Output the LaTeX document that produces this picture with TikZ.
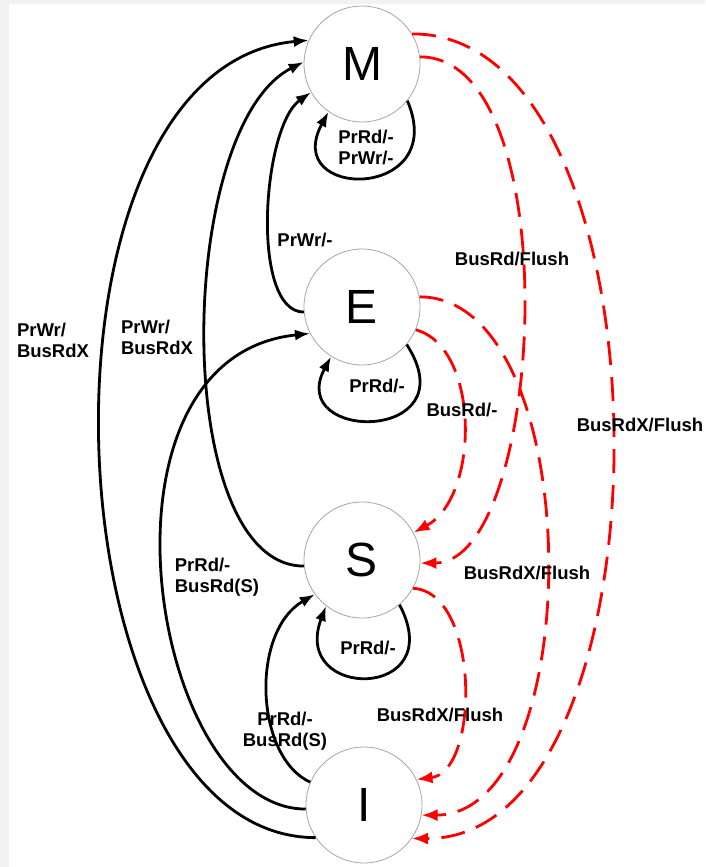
\documentclass[tikz,border=0pt]{standalone}
\usepackage{fontspec}
\setmainfont{Liberation Sans}
\usetikzlibrary{arrows.meta}
\begin{document}
\begin{tikzpicture}[x=1pt,y=1pt]
		\tikzset{state/.style = {shape=circle,draw=gray!70,line width=.8pt,fill=white,minimum size=116pt,inner sep=0pt,font=\fontsize{48}{48}\selectfont}}
		\tikzset{lbl/.style = {font=\fontsize{18.5}{21}\selectfont\bfseries,inner sep=1pt}}
		\tikzset{edge/.style = {->,> = {Latex[length=15pt,width=11pt]},line width=2.8pt}}
		\tikzset{busedge/.style = {->,> = {Latex[length=16pt,width=12pt]},line width=2.8pt,red,dash pattern=on 24pt off 12pt}}
		\useasboundingbox (0,0) rectangle (705,867);
		\fill[gray!10] (0,0) rectangle (705,867);
		\fill[white] (9,0) rectangle (705,863);
		\node[state] (M) at (362,803) {M};
		\node[state] (E) at (362,560) {E};
		\node[state] (S) at (362,307) {S};
		\node[state] (I) at (364,62) {I};
		% processor side
		\draw[edge] (I.214) .. controls (45,30) and (15,800) .. (M.156);
		\draw[edge] (S.186) .. controls (170,301) and (175,740) .. (M.178);
		\draw[edge] (E.185) .. controls (250,555) and (262,740) .. (M.209);
		\draw[edge] (I.184) .. controls (150,58) and (80,510) .. (E.207);
		\draw[edge] (I.157) .. controls (255,110) and (250,235) .. (S.216);
		\draw[edge] (M.321) .. controls (450,666) and (280,666) .. (M.235);
		\draw[edge] (E.320) .. controls (470,424) and (285,424) .. (E.238);
		\draw[edge] (S.310) .. controls (450,166) and (290,166) .. (S.232);
		% bus side
		\draw[busedge] (M.31) .. controls (679,834) and (679,27) .. (I.325);
		\draw[busedge] (M.7) .. controls (570,810) and (545,304) .. (S.357);
		\draw[busedge] (E.337) .. controls (480,520) and (480,370) .. (S.28);
		\draw[busedge] (E.10) .. controls (589,570) and (589,52) .. (I.350);
		\draw[busedge] (S.331) .. controls (480,275) and (480,95) .. (I.26);
		% labels
		\node[lbl,align=left] (lIM) at (53,527) {PrWr/\\BusRdX};
		\node[lbl,align=left] (lSM) at (157,530) {PrWr/\\BusRdX};
		\node[lbl] (lEM) at (305,627) {PrWr/-};
		\node[lbl,align=center] (lMM) at (366,720) {PrRd/-\\PrWr/-};
		\node[lbl] (lMS) at (512,608) {BusRd/Flush};
		\node[lbl] (lMI) at (640,442) {BusRdX/Flush};
		\node[lbl] (lEE) at (377,481) {PrRd/-};
		\node[lbl] (lES) at (462,457) {BusRd/-};
		\node[lbl] (lEI) at (527,294) {BusRdX/Flush};
		\node[lbl,align=left] (lIE) at (217,290) {PrRd/-\\BusRd(S)};
		\node[lbl] (lSS) at (368,219) {PrRd/-};
		\node[lbl,align=center] (lIS) at (285,136) {PrRd/-\\BusRd(S)};
		\node[lbl] (lSI) at (440,152) {BusRdX/Flush};
	\end{tikzpicture}
\end{document}
